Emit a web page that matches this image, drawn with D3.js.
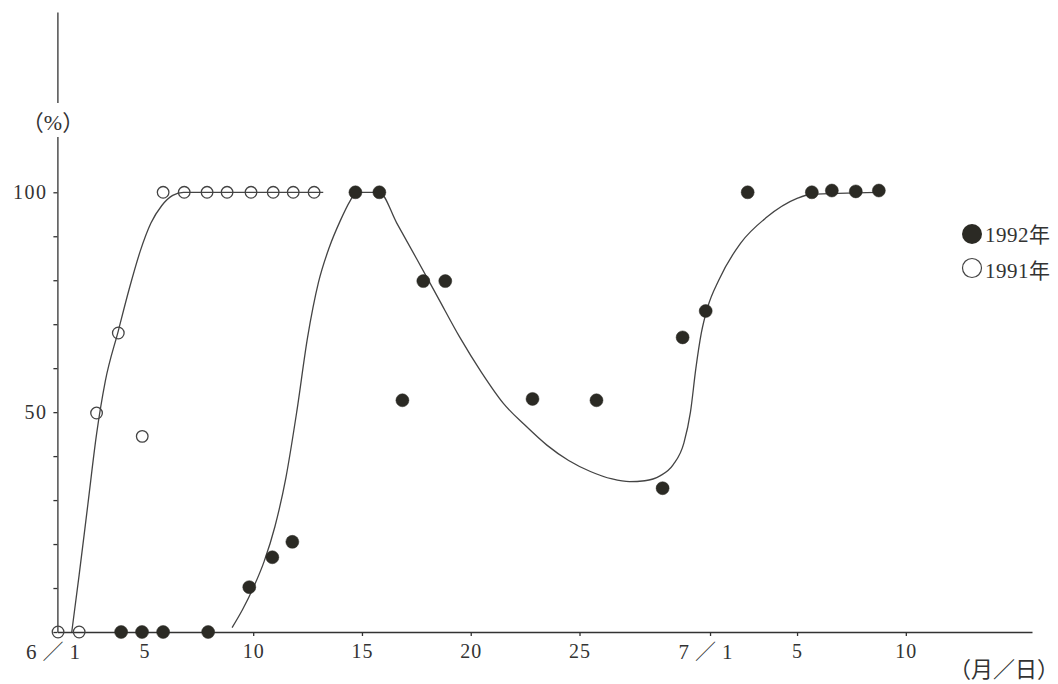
<!DOCTYPE html>
<html>
<head>
<meta charset="utf-8">
<script src="https://cdn.jsdelivr.net/npm/d3@7"></script>
<style>
  html, body { margin: 0; padding: 0; background: #fff; }
  svg { display: block; }
  text { font-family: "Liberation Serif", "Noto Sans CJK SC", serif; fill: #333; }
</style>
</head>
<body>
<svg id="chart" width="1058" height="684"></svg>
<script>
// ---- data (day index: June 1 = 1, July 1 = 31) ----
const xTickDays   = [1, 5, 10, 15, 20, 25, 31, 35, 40];
const xTickLabels = ["6／1", "5", "10", "15", "20", "25", "7／1", "5", "10"];
const yTickValues = [0, 10, 20, 30, 40, 50, 60, 70, 80, 90, 100];
const yTickLabels = ["", "", "", "", "", "50", "", "", "", "", "100"];

// observed points
const days1991   = [1.03, 2.0, 2.8, 3.8, 4.9, 5.86, 6.83, 7.88, 8.8, 9.9, 10.92, 11.84, 12.8];
const values1991 = [0, 0, 49.8, 68, 44.5, 100, 100, 100, 100, 100, 100, 100, 100];

const days1992   = [3.93, 4.89, 5.86, 7.93, 9.82, 10.88, 11.8, 14.7, 15.8, 16.86, 17.82, 18.83,
                    22.84, 25.78, 28.82, 29.74, 30.8, 32.73, 35.68, 36.6, 37.7, 38.76];
const values1992 = [0, 0, 0, 0, 10.2, 17, 20.5, 100, 100, 52.7, 79.8, 79.8,
                    53, 52.7, 32.7, 67, 73, 100, 100, 100.4, 100.2, 100.4];

// fitted curves
const curveDays1991   = [1.66, 2.0, 2.4, 2.8, 3.2, 3.8, 4.3, 4.8, 5.3, 5.8, 6.3, 6.8, 13.22];
const curveValues1991 = [0, 13, 29, 45, 57, 68.5, 78, 86.5, 93, 97, 99.3, 100, 100];

const curveDays1992   = [9.03, 9.5, 10.0, 10.5, 11.0, 11.5, 12.0, 12.5, 13.0, 13.5, 14.0, 14.45, 14.74,
                         15.8, 16.6, 17.5, 18.5, 19.5, 20.5, 21.5, 22.5, 23.5, 24.5, 25.5, 26.5,
                         27.3, 28.0, 28.7, 29.3, 29.8, 30.1, 30.35, 30.6, 30.9, 31.4, 32.4, 33.6,
                         35.0, 35.6, 38.7];
const curveValues1992 = [1, 5, 10, 16, 24, 35, 50, 67, 79.5, 87.5, 93.5, 98, 100,
                         100, 93, 85, 76, 67, 59, 52, 47, 42.5, 39, 36.5, 34.8,
                         34.2, 34.4, 35.5, 38, 43, 50, 60, 68, 74, 80, 88.4, 94.3,
                         98.6, 99.5, 100];

const legendLabels = ["1992年", "1991年"];

// ---- drawing ----
const svg = d3.select("#chart");
const ink = "#333";

const x = d3.scaleLinear().domain([1, 45.8]).range([57.4, 1032]);
const y = d3.scaleLinear().domain([0, 141]).range([632, 12]);

// x axis
const xAxis = d3.axisBottom(x)
  .tickValues(xTickDays)
  .tickFormat((d, i) => xTickLabels[i])
  .tickSize(4).tickSizeOuter(0).tickPadding(8);
const gx = svg.append("g").attr("transform", `translate(0,${y(0)})`).call(xAxis);
gx.select(".domain").attr("stroke", ink).attr("stroke-width", 1.3);
gx.selectAll(".tick line").attr("stroke", ink).attr("stroke-width", 1.3);
gx.selectAll(".tick text")
  .attr("font-size", 20).attr("fill", ink)
  .attr("font-family", "Liberation Serif, Noto Sans CJK SC, serif")
  .style("letter-spacing", "1px");
gx.selectAll(".tick text").filter(d => d === 1 || d === 31)
  .style("letter-spacing", "6px").attr("dx", -2).attr("font-size", 21);
gx.selectAll(".tick").filter(d => d === 1).select("line").remove();

// y axis
const yAxis = d3.axisLeft(y)
  .tickValues(yTickValues)
  .tickFormat((d, i) => yTickLabels[i])
  .tickSize(4).tickSizeOuter(0).tickPadding(6);
const gy = svg.append("g").attr("transform", `translate(${x(1)},0)`).call(yAxis);
gy.select(".domain").attr("stroke", ink).attr("stroke-width", 1.3);
gy.selectAll(".tick line").attr("stroke", ink).attr("stroke-width", 1.3);
gy.selectAll(".tick text")
  .attr("font-size", 20).attr("fill", ink)
  .attr("font-family", "Liberation Serif, serif")
  .style("letter-spacing", "1.5px");

// unit labels
const pctLabel = svg.append("g");
pctLabel.append("rect").attr("x", 30).attr("y", 103).attr("width", 46).attr("height", 34).attr("fill", "#fff");
pctLabel.append("text").attr("x", 53).attr("y", 130).attr("text-anchor", "middle")
  .attr("font-size", 22).text("（%）");
svg.append("text").attr("x", 1004).attr("y", 677).attr("text-anchor", "middle")
  .attr("font-size", 22).text("（月／日）");

// curves
const line = d3.line().x(d => x(d[0])).y(d => y(d[1])).curve(d3.curveMonotoneX);
svg.append("path")
  .datum(d3.zip(curveDays1991, curveValues1991))
  .attr("d", line).attr("fill", "none").attr("stroke", "#444").attr("stroke-width", 1.3);
svg.append("path")
  .datum(d3.zip(curveDays1992, curveValues1992))
  .attr("d", line).attr("fill", "none").attr("stroke", "#444").attr("stroke-width", 1.3);

// points
svg.append("g").selectAll("circle")
  .data(d3.zip(days1991, values1991)).join("circle")
  .attr("cx", d => x(d[0])).attr("cy", d => y(d[1])).attr("r", 5.8)
  .attr("fill", "#fff").attr("fill-opacity", 0).attr("stroke", "#444").attr("stroke-width", 1.3);
svg.append("g").selectAll("circle")
  .data(d3.zip(days1992, values1992)).join("circle")
  .attr("cx", d => x(d[0])).attr("cy", d => y(d[1])).attr("r", 6.5)
  .attr("fill", "#2b2a24").attr("stroke", "#2b2a24").attr("stroke-width", 0.5);

// legend
const lg = svg.append("g");
lg.append("circle").attr("cx", 972).attr("cy", 234).attr("r", 10).attr("fill", "#2b2a24");
lg.append("circle").attr("cx", 972).attr("cy", 268).attr("r", 9.5)
  .attr("fill", "none").attr("stroke", "#444").attr("stroke-width", 1.2);
lg.selectAll("text.lg").data(legendLabels).join("text").attr("class", "lg")
  .attr("x", 985).attr("y", (d, i) => 242 + i * 36)
  .attr("font-size", 21).style("letter-spacing", "0.5px").text(d => d);
</script>
</body>
</html>
